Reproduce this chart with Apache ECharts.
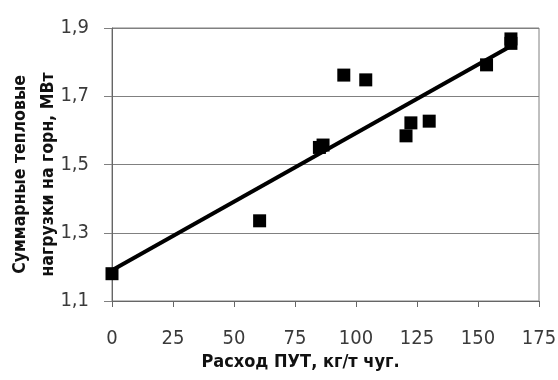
<!DOCTYPE html>
<html>
<head>
<meta charset="utf-8">
<script src="https://cdn.jsdelivr.net/npm/echarts@6/dist/echarts.min.js"></script>
<style>
  html, body { margin: 0; padding: 0; background: #fff; }
  #chart { width: 558px; height: 380px; }
</style>
</head>
<body>
<div id="chart"></div>
<script>
// расход ПУТ, кг/т чугуна
var putRate = [0, 60.5, 85, 86.5, 95, 104, 120.5, 122.5, 130, 153.5, 163.5, 163.5];
// суммарные тепловые нагрузки на горн, МВт
var hearthLoad = [1.18, 1.335, 1.55, 1.557, 1.762, 1.748, 1.584, 1.622, 1.627, 1.792, 1.868, 1.855];
// линия тренда (концы)
var trendX = [0, 163];
var trendY = [1.19, 1.845];
var yTicks = [1.1, 1.3, 1.5, 1.7, 1.9];
var xTicks = [0, 25, 50, 75, 100, 125, 150, 175];

var font = "'DejaVu Sans Condensed', 'Liberation Sans Narrow', sans-serif";

var chart = echarts.init(document.getElementById("chart"));
chart.setOption({
  animation: false,
  grid: {
    left: 112,
    right: 19,
    top: 28,
    bottom: 79,
    outerBoundsMode: "none",
    containLabel: false,
    show: true,
    borderColor: "#808080",
    borderWidth: 1,
  },
  xAxis: {
    type: "value",
    min: xTicks[0],
    max: xTicks[xTicks.length - 1],
    interval: 25,
    name: "Расход ПУТ, кг/т чуг.",
    nameLocation: "middle",
    nameGap: 52,
    nameMoveOverlap: false,
    nameTextStyle: {
      fontFamily: font, fontSize: 18, fontWeight: "bold", color: "#111",
      padding: [0, 50, 0, 0],
    },
    axisLine: { lineStyle: { color: "#666", width: 1 } },
    axisTick: { show: true, length: 6, lineStyle: { color: "#666" } },
    axisLabel: { fontFamily: font, fontSize: 20, color: "#3a3a3a", margin: 28 },
    splitLine: { show: false },
  },
  yAxis: {
    type: "value",
    min: yTicks[0],
    max: yTicks[yTicks.length - 1],
    name: "Суммарные тепловые\nнагрузки на горн, МВт",
    nameLocation: "middle",
    nameGap: 50,
    nameMoveOverlap: false,
    nameTextStyle: {
      fontFamily: font, fontSize: 17.5, fontWeight: "bold", color: "#111", lineHeight: 28,
      padding: [0, 20, 0, 0],
    },
    axisLine: { show: true, lineStyle: { color: "#666", width: 1 } },
    axisTick: { show: true, length: 8, customValues: yTicks, lineStyle: { color: "#808080" } },
    axisLabel: {
      fontFamily: font,
      fontSize: 20,
      color: "#3a3a3a",
      margin: 23,
      customValues: yTicks,
      formatter: function (v) {
        return v.toFixed(1).replace(".", ",");
      },
    },
    splitLine: { show: true, lineStyle: { color: "#808080", width: 1 } },
  },
  series: [
    {
      type: "line",
      data: trendX.map(function (x, i) { return [x, trendY[i]]; }),
      symbol: "none",
      lineStyle: { color: "#000", width: 4 },
      z: 3,
    },
    {
      type: "scatter",
      data: putRate.map(function (x, i) { return [x, hearthLoad[i]]; }),
      symbol: "rect",
      symbolSize: 13,
      itemStyle: { color: "#000", opacity: 1 },
      z: 4,
    },
  ],
});
</script>
</body>
</html>
